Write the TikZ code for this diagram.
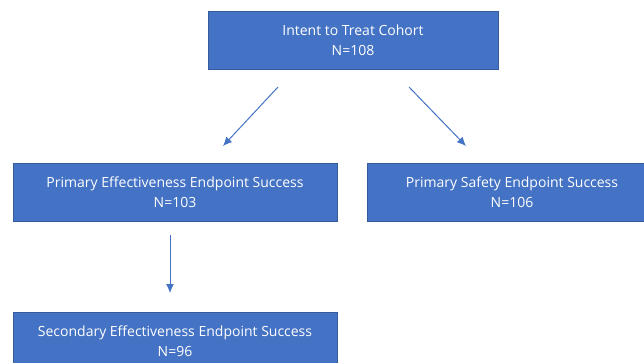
\documentclass[tikz,border=0pt]{standalone}
\usepackage{fontspec}
\setmainfont{Open Sans}
\usetikzlibrary{positioning, arrows.meta}
\definecolor{boxblue}{HTML}{4472C4}
\tikzset{
	flowbox/.style={fill=boxblue, draw=boxblue!80!black, line width=0.6pt, text=white, align=center,
		font=\fontsize{14}{20}\selectfont, minimum height=58pt, inner sep=0pt},
	flowarrow/.style={-{Latex[length=9pt, width=8pt]}, boxblue, line width=1pt},
}
\begin{document}
\begin{tikzpicture}[x=1pt, y=1pt]
	\useasboundingbox (0, 0) rectangle (644, -362);

	\node[flowbox, minimum width=290pt] (cohort) at (353, -40) {Intent to Treat Cohort\\N=108};
	\node[flowbox, minimum width=324pt] (effect) at (175, -192) {Primary Effectiveness Endpoint Success\\N=103};
	\node[flowbox, minimum width=290pt] (safety) at (512, -192) {Primary Safety Endpoint Success\\N=106};
	\node[flowbox, minimum width=324pt] (second) at (175, -341) {Secondary Effectiveness Endpoint Success\\N=96};

	\coordinate (a1) at (278, -87);
	\coordinate (b1) at (223, -146);
	\coordinate (a2) at (409, -87);
	\coordinate (b2) at (466, -146);
	\coordinate (a3) at (170, -235);
	\coordinate (b3) at (170, -293);

	\draw[flowarrow] (a1) -- (b1);
	\draw[flowarrow] (a2) -- (b2);
	\draw[flowarrow] (a3) -- (b3);

\end{tikzpicture}
\end{document}
